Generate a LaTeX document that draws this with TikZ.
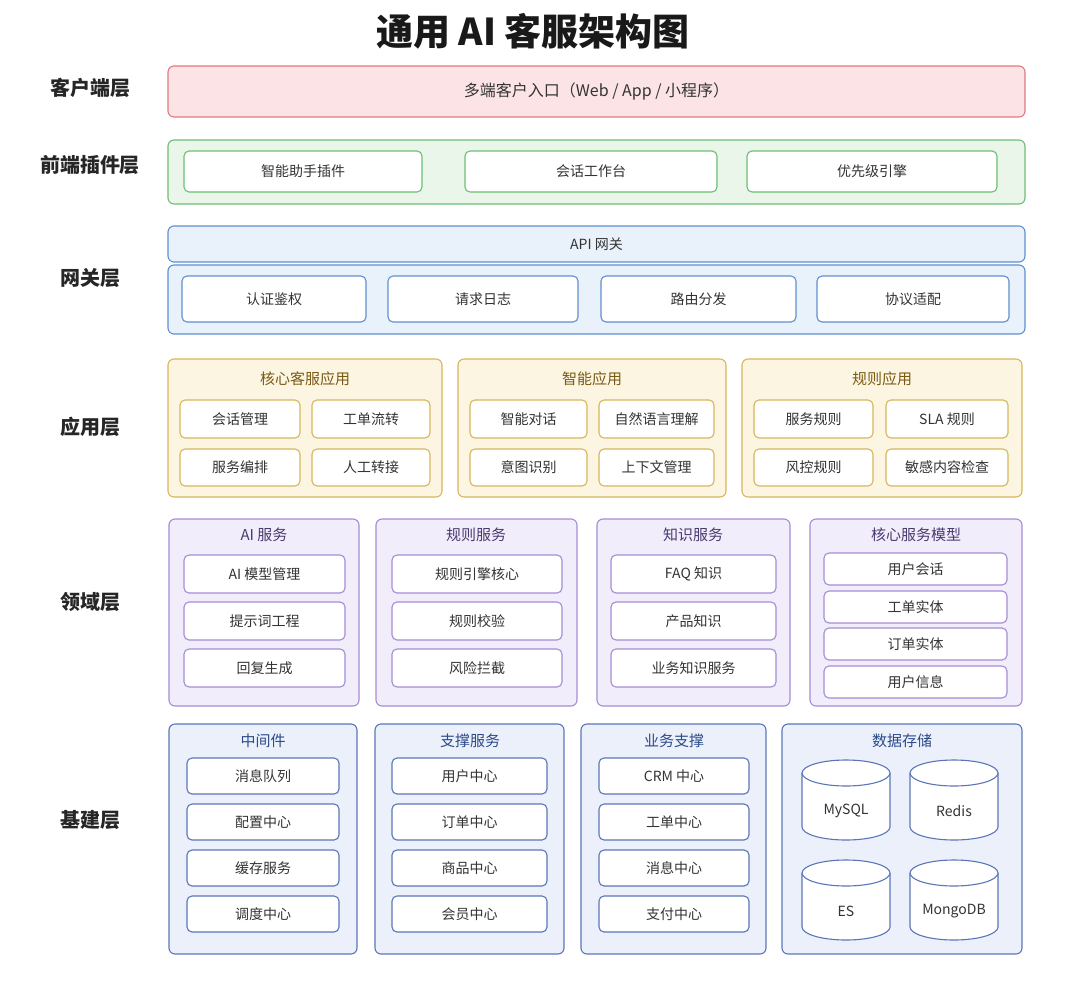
\documentclass[tikz,border=0pt]{standalone}
\usepackage{fontspec}
\setmainfont{Noto Sans CJK SC}
\definecolor{cliFill}{HTML}{FCE4E6}\definecolor{cliLine}{HTML}{E07A7F}
\definecolor{feFill}{HTML}{EAF6EA}\definecolor{feLine}{HTML}{6DBE72}
\definecolor{gwFill}{HTML}{E9F1FB}\definecolor{gwLine}{HTML}{5E8FD0}
\definecolor{apFill}{HTML}{FCF5E2}\definecolor{apLine}{HTML}{D8B65A}
\definecolor{apText}{HTML}{7A5A12}
\definecolor{dmFill}{HTML}{F2EDFA}\definecolor{dmLine}{HTML}{A68BD6}
\definecolor{dmText}{HTML}{4A3A70}
\definecolor{inFill}{HTML}{EBF0FB}\definecolor{inLine}{HTML}{5B76B8}
\definecolor{inText}{HTML}{2C4A8A}
\tikzset{
  base/.style={draw, rounded corners=5pt, line width=1.1pt, inner sep=0pt,
    font=\fontsize{14}{16}\selectfont, text=black!80},
  grp/.style={base, rounded corners=6pt},
  item/.style={base, fill=white},
  layer/.style={font=\fontsize{20}{22}\selectfont\bfseries, text=black!85},
  gtitle/.style={font=\fontsize{15}{17}\selectfont},
  db/.style={draw=inLine, fill=white, line width=1.1pt},
}
% block from corner to corner
\newcommand\blk[7]{\node[#1, minimum width={(#5-#3)*1pt}, minimum height={(#6-#4)*1pt}]
  (#2) at ({(#3+#5)/2},{(#4+#6)/2}) {#7};}
% database cylinder
\newcommand\dbcyl[4]{
  \draw[db] ({#2-44},{#3-27}) -- ({#2-44},{#3+27}) arc (180:0:44 and 13) -- ({#2+44},{#3-27});
  \draw[db] (#2,{#3-27}) ellipse (44 and 13);
  \node[base, draw=none] (#1) at (#2,{#3+11}) {#4};}
\begin{document}
\begin{tikzpicture}[x=1pt,y=-1pt]
  \useasboundingbox[fill=white] (0,0) rectangle (1080,1002);
  \node[font=\fontsize{37}{40}\selectfont\bfseries, text=black!90] (title) at (533,31) {通用 AI 客服架构图};

  % layer labels
  \node[layer] (lCli) at (90,88) {客户端层};
  \node[layer] (lFe) at (90,165) {前端插件层};
  \node[layer] (lGw) at (90,278) {网关层};
  \node[layer] (lAp) at (90,427) {应用层};
  \node[layer] (lDm) at (90,602) {领域层};
  \node[layer] (lIn) at (90,820) {基建层};

  % client
  \blk{grp, fill=cliFill, draw=cliLine, font=\fontsize{16}{18}\selectfont}{cli}{168}{66}{1025}{117}{多端客户入口（Web / App / 小程序）}

  % frontend plugins
  \blk{grp, fill=feFill, draw=feLine}{fe}{168}{140}{1025}{204}{}
  \blk{item, draw=feLine}{fe1}{184}{151}{422}{192}{智能助手插件}
  \blk{item, draw=feLine}{fe2}{465}{151}{717}{192}{会话工作台}
  \blk{item, draw=feLine}{fe3}{747}{151}{997}{192}{优先级引擎}

  % gateway
  \blk{grp, fill=gwFill, draw=gwLine}{api}{168}{226}{1025}{262}{API 网关}
  \blk{grp, fill=gwFill, draw=gwLine}{gw}{168}{265}{1025}{334}{}
  \blk{item, draw=gwLine}{gw1}{182}{276}{366}{322}{认证鉴权}
  \blk{item, draw=gwLine}{gw2}{388}{276}{578}{322}{请求日志}
  \blk{item, draw=gwLine}{gw3}{601}{276}{796}{322}{路由分发}
  \blk{item, draw=gwLine}{gw4}{817}{276}{1009}{322}{协议适配}

  % application
  \blk{grp, fill=apFill, draw=apLine}{ap1}{168}{359}{442}{497}{}
  \blk{grp, fill=apFill, draw=apLine}{ap2}{458}{359}{726}{497}{}
  \blk{grp, fill=apFill, draw=apLine}{ap3}{742}{359}{1022}{497}{}
  \node[gtitle, text=apText] (ap1t) at (305,379) {核心客服应用};
  \node[gtitle, text=apText] (ap2t) at (592,379) {智能应用};
  \node[gtitle, text=apText] (ap3t) at (882,379) {规则应用};
  \blk{item, draw=apLine}{ap11}{180}{400}{300}{438}{会话管理}
  \blk{item, draw=apLine}{ap12}{312}{400}{430}{438}{工单流转}
  \blk{item, draw=apLine}{ap13}{180}{449}{300}{486}{服务编排}
  \blk{item, draw=apLine}{ap14}{312}{449}{430}{486}{人工转接}
  \blk{item, draw=apLine}{ap21}{470}{400}{587}{438}{智能对话}
  \blk{item, draw=apLine}{ap22}{599}{400}{714}{438}{自然语言理解}
  \blk{item, draw=apLine}{ap23}{470}{449}{587}{486}{意图识别}
  \blk{item, draw=apLine}{ap24}{599}{449}{714}{486}{上下文管理}
  \blk{item, draw=apLine}{ap31}{754}{400}{873}{438}{服务规则}
  \blk{item, draw=apLine}{ap32}{886}{400}{1008}{438}{SLA 规则}
  \blk{item, draw=apLine}{ap33}{754}{449}{873}{486}{风控规则}
  \blk{item, draw=apLine}{ap34}{886}{449}{1008}{486}{敏感内容检查}

  % domain
  \blk{grp, fill=dmFill, draw=dmLine}{dm1}{169}{519}{359}{706}{}
  \blk{grp, fill=dmFill, draw=dmLine}{dm2}{376}{519}{577}{706}{}
  \blk{grp, fill=dmFill, draw=dmLine}{dm3}{597}{519}{790}{706}{}
  \blk{grp, fill=dmFill, draw=dmLine}{dm4}{810}{519}{1022}{706}{}
  \node[gtitle, text=dmText] (dm1t) at (264,535) {AI 服务};
  \node[gtitle, text=dmText] (dm2t) at (476,535) {规则服务};
  \node[gtitle, text=dmText] (dm3t) at (693,535) {知识服务};
  \node[gtitle, text=dmText] (dm4t) at (916,535) {核心服务模型};
  \blk{item, draw=dmLine}{dm11}{184}{555}{345}{593}{AI 模型管理}
  \blk{item, draw=dmLine}{dm12}{184}{602}{345}{640}{提示词工程}
  \blk{item, draw=dmLine}{dm13}{184}{649}{345}{687}{回复生成}
  \blk{item, draw=dmLine}{dm21}{392}{555}{562}{593}{规则引擎核心}
  \blk{item, draw=dmLine}{dm22}{392}{602}{562}{640}{规则校验}
  \blk{item, draw=dmLine}{dm23}{392}{649}{562}{687}{风险拦截}
  \blk{item, draw=dmLine}{dm31}{611}{555}{776}{593}{FAQ 知识}
  \blk{item, draw=dmLine}{dm32}{611}{602}{776}{640}{产品知识}
  \blk{item, draw=dmLine}{dm33}{611}{649}{776}{687}{业务知识服务}
  \blk{item, draw=dmLine}{dm41}{824}{553}{1007}{585}{用户会话}
  \blk{item, draw=dmLine}{dm42}{824}{591}{1007}{623}{工单实体}
  \blk{item, draw=dmLine}{dm43}{824}{628}{1007}{660}{订单实体}
  \blk{item, draw=dmLine}{dm44}{824}{666}{1007}{698}{用户信息}

  % infrastructure
  \blk{grp, fill=inFill, draw=inLine}{in1}{169}{724}{357}{954}{}
  \blk{grp, fill=inFill, draw=inLine}{in2}{375}{724}{564}{954}{}
  \blk{grp, fill=inFill, draw=inLine}{in3}{581}{724}{766}{954}{}
  \blk{grp, fill=inFill, draw=inLine}{in4}{782}{724}{1022}{954}{}
  \node[gtitle, text=inText] (in1t) at (263,741) {中间件};
  \node[gtitle, text=inText] (in2t) at (470,741) {支撑服务};
  \node[gtitle, text=inText] (in3t) at (674,741) {业务支撑};
  \node[gtitle, text=inText] (in4t) at (902,741) {数据存储};
  \blk{item, draw=inLine}{in11}{187}{758}{339}{794}{消息队列}
  \blk{item, draw=inLine}{in12}{187}{804}{339}{840}{配置中心}
  \blk{item, draw=inLine}{in13}{187}{850}{339}{886}{缓存服务}
  \blk{item, draw=inLine}{in14}{187}{896}{339}{932}{调度中心}
  \blk{item, draw=inLine}{in21}{392}{758}{547}{794}{用户中心}
  \blk{item, draw=inLine}{in22}{392}{804}{547}{840}{订单中心}
  \blk{item, draw=inLine}{in23}{392}{850}{547}{886}{商品中心}
  \blk{item, draw=inLine}{in24}{392}{896}{547}{932}{会员中心}
  \blk{item, draw=inLine}{in31}{599}{758}{749}{794}{CRM 中心}
  \blk{item, draw=inLine}{in32}{599}{804}{749}{840}{工单中心}
  \blk{item, draw=inLine}{in33}{599}{850}{749}{886}{消息中心}
  \blk{item, draw=inLine}{in34}{599}{896}{749}{932}{支付中心}
  \dbcyl{mysql}{846}{800}{MySQL}
  \dbcyl{redis}{954}{800}{Redis}
  \dbcyl{es}{846}{900}{ES}
  \dbcyl{mongo}{954}{900}{MongoDB}
\end{tikzpicture}
\end{document}
